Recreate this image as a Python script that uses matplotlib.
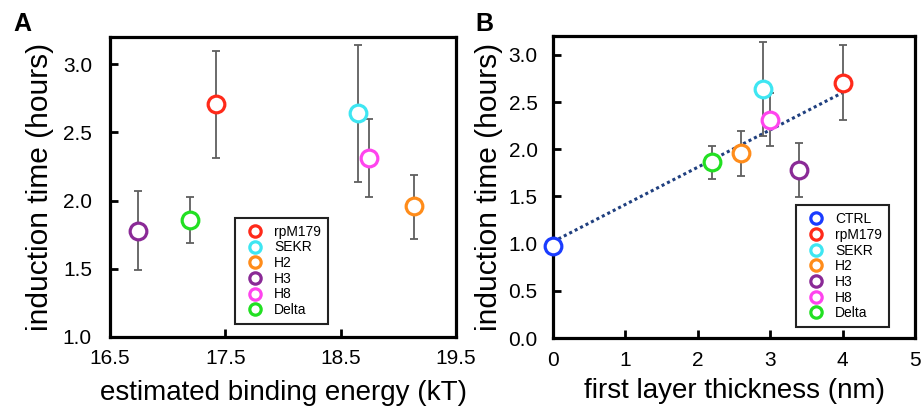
import numpy as np
import matplotlib
matplotlib.use("Agg")
import matplotlib.pyplot as plt

plt.rcParams['font.family'] = ['Liberation Sans', 'DejaVu Sans']

# panel A: induction time vs estimated binding energy
names_a = ["rpM179", "SEKR", "H2", "H3", "H8", "Delta"]
energy_a = [17.42, 18.65, 19.14, 16.74, 18.75, 17.19]
time_a = [2.71, 2.64, 1.96, 1.78, 2.31, 1.86]
err_lo_a = [0.40, 0.50, 0.24, 0.29, 0.28, 0.17]
err_hi_a = [0.39, 0.50, 0.23, 0.29, 0.29, 0.17]

# panel B: induction time vs first layer thickness
names_b = ["CTRL", "rpM179", "SEKR", "H2", "H3", "H8", "Delta"]
thick_b = [0.0, 4.0, 2.9, 2.6, 3.4, 3.0, 2.2]
time_b = [0.97, 2.70, 2.64, 1.96, 1.78, 2.31, 1.86]
err_lo_b = [0.0, 0.39, 0.50, 0.24, 0.29, 0.28, 0.17]
err_hi_b = [0.0, 0.40, 0.50, 0.23, 0.29, 0.29, 0.17]
fit_x = [0.0, 4.0]
fit_y = [1.02, 2.60]

colors = {
    "CTRL": "#1a3cff",
    "rpM179": "#ff2a1a",
    "SEKR": "#3ee6f2",
    "H2": "#ff8c1a",
    "H3": "#8a2a96",
    "H8": "#ff44ee",
    "Delta": "#22e022",
}

fig = plt.figure(figsize=(9.22, 4.07), dpi=100)
ax_a = fig.add_axes([110 / 922, 1 - 337 / 407, 346 / 922, 300 / 407])
ax_b = fig.add_axes([553 / 922, 1 - 338 / 407, 362 / 922, 302 / 407])


def draw(ax, names, xs, ys, lo, hi):
    for n, x, y, l, h in zip(names, xs, ys, lo, hi):
        if l > 0 or h > 0:
            ax.errorbar(x, y, yerr=[[l], [h]], fmt='none', ecolor='#5f5f5f',
                        elinewidth=1.3, capsize=3, capthick=1.3, zorder=2)
        ax.plot(x, y, 'o', ms=12, mfc='white', mec=colors[n], mew=2.3,
                label=n, zorder=3, linestyle='none', clip_on=False)


def style(ax, anchor, ypad):
    for s in ax.spines.values():
        s.set_linewidth(2.3)
    ax.tick_params(axis='both', direction='in', length=6, width=2, labelsize=15)
    ax.tick_params(axis='y', pad=ypad)
    ax.tick_params(axis='x', pad=9)
    leg = ax.legend(loc='lower right', bbox_to_anchor=anchor, borderaxespad=0,
                    fontsize=10, frameon=True, fancybox=False,
                    handletextpad=0.35, labelspacing=0.12, borderpad=0.5,
                    markerscale=0.68, edgecolor='#222222', framealpha=1)
    leg.get_frame().set_linewidth(1.5)


draw(ax_a, names_a, energy_a, time_a, err_lo_a, err_hi_a)
ax_a.set_xlim(16.5, 19.5)
ax_a.set_ylim(1.0, 3.2)
ax_a.set_xticks([16.5, 17.5, 18.5, 19.5])
ax_a.set_yticks([1.0, 1.5, 2.0, 2.5, 3.0])
ax_a.set_yticklabels(["1.0", "1.5", "2.0", "2.5", "3.0"])
ax_a.set_xlabel("estimated binding energy (kT)", fontsize=20, labelpad=8)
ax_a.set_ylabel("induction time (hours)", fontsize=21.5, labelpad=6)
style(ax_a, (0.63, 0.043), 13)

ax_b.plot(fit_x, fit_y, linestyle=(0, (1, 1)), color='#1f3f7f', lw=2.2, zorder=1)
draw(ax_b, names_b, thick_b, time_b, err_lo_b, err_hi_b)
ax_b.set_xlim(0, 5)
ax_b.set_ylim(0, 3.2)
ax_b.set_xticks([0, 1, 2, 3, 4, 5])
ax_b.set_yticks([0, 0.5, 1.0, 1.5, 2.0, 2.5, 3.0])
ax_b.set_yticklabels(["0.0", "0.5", "1.0", "1.5", "2.0", "2.5", "3.0"])
ax_b.set_xlabel("first layer thickness (nm)", fontsize=20, labelpad=6)
ax_b.set_ylabel("induction time (hours)", fontsize=21.5, labelpad=4)
style(ax_b, (0.928, 0.036), 11)

fig.text(13 / 922, 1 - 24 / 407, "A", fontsize=18, fontweight='bold', va='center')
fig.text(475 / 922, 1 - 24 / 407, "B", fontsize=18, fontweight='bold', va='center')

fig.savefig("out.png", dpi=100)
